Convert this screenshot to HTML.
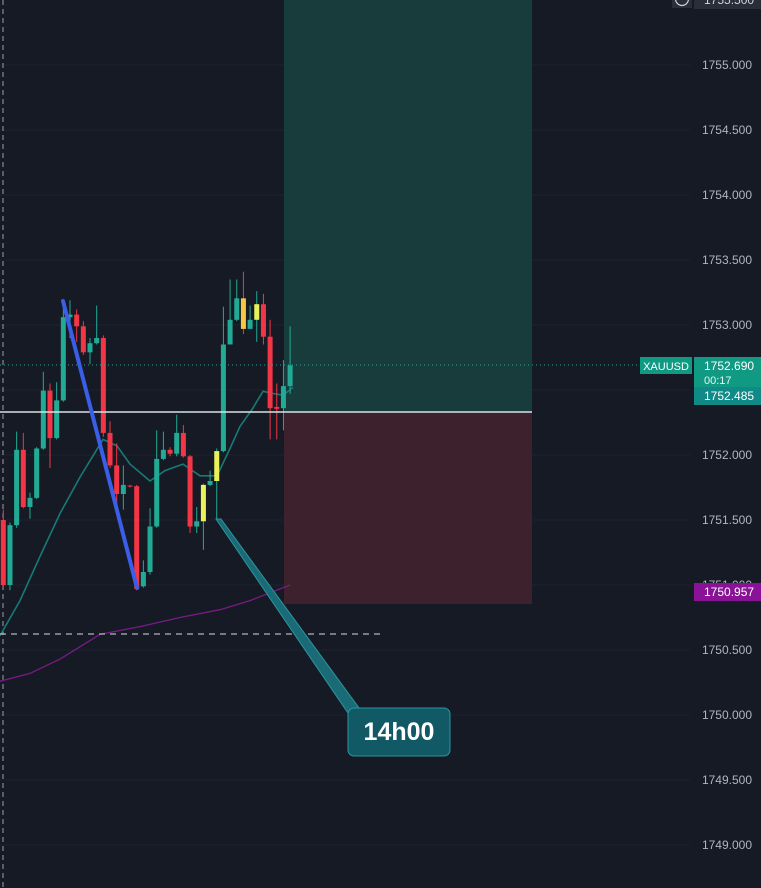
<!DOCTYPE html>
<html><head><meta charset="utf-8"><style>
html,body{margin:0;padding:0;background:#161a25;}
svg{display:block;font-family:"Liberation Sans",sans-serif;}
</style></head><body>
<svg id="chart" width="761" height="888" viewBox="0 0 761 888" xmlns="http://www.w3.org/2000/svg">
<rect x="0" y="0" width="761" height="888" fill="#161a25"/>
<g id="grid"></g>
<rect x="284" y="0" width="248" height="412" fill="#173c3b"/>
<rect x="284" y="412" width="248" height="192" fill="#3d222d"/>
<line x1="3" y1="0" x2="3" y2="888" stroke="#9aa0ab" stroke-width="1" stroke-dasharray="5,4"/>
<g id="mas"></g>
<g id="candles"></g>
<line x1="0" y1="412" x2="532" y2="412" stroke="#d8e2e6" stroke-width="1.5"/>
<line x1="0" y1="634" x2="385" y2="634" stroke="#d8dbe0" stroke-width="1" stroke-dasharray="6,5"/>
<line x1="0" y1="365" x2="640" y2="365" stroke="#22ab94" stroke-width="1" stroke-dasharray="1,3"/>
<line x1="63" y1="301" x2="137" y2="588" stroke="#3a5ee8" stroke-width="4" stroke-linecap="round"/>
<g>
<polygon points="216,519 221,519 362,712 350,716" fill="#1a6b76" stroke="#2a95a0" stroke-width="1"/>
<rect x="348" y="708" width="102" height="48" rx="6" fill="#125966" stroke="#2a95a0" stroke-width="1"/>
<text x="399" y="740" text-anchor="middle" font-size="25" font-weight="bold" fill="#ffffff">14h00</text>
</g>
<g id="axis"></g>
<g>
<rect x="672" y="-12" width="20" height="20" fill="#2a2e39"/>
<circle cx="682" cy="-1" r="6.5" fill="none" stroke="#d1d4dc" stroke-width="1.2"/>
<rect x="694" y="-12" width="67" height="21" fill="#2a2e39"/>
<text x="704" y="4" font-size="12" fill="#d1d4dc">1755.500</text>
</g>
<g>
<rect x="640" y="357" width="52" height="17" fill="#109a84"/>
<text x="666" y="370" text-anchor="middle" font-size="11" fill="#ffffff">XAUUSD</text>
</g>
<g>
<rect x="694" y="357" width="67" height="30" fill="#109a84"/>
<text x="704" y="370" font-size="12" fill="#ffffff">1752.690</text>
<text x="704" y="384" font-size="11" fill="#e6f5f2">00:17</text>
<rect x="694" y="387" width="67" height="18" fill="#0f8a87"/>
<text x="704" y="400" font-size="12" fill="#ffffff">1752.485</text>
</g>
<g>
<rect x="694" y="583" width="67" height="18" fill="#8a1296"/>
<text x="704" y="596" font-size="12" fill="#ffffff">1750.957</text>
</g>
</svg>
<script>
const ticks = [1755.0,1754.5,1754.0,1753.5,1753.0,1752.5,1752.0,1751.5,1751.0,1750.5,1750.0,1749.5,1749.0];
const opens  = [1751.50,1751.00,1751.46,1752.04,1751.60,1751.67,1752.05,1752.495,1752.13,1752.42,1753.06,1753.08,1752.99,1752.79,1752.86,1752.90,1752.17,1751.92,1751.70,1751.765,1751.76,1750.99,1751.10,1751.45,1751.97,1752.04,1752.01,1752.17,1751.99,1751.45,1751.49,1751.77,1751.80,1752.03,1752.85,1753.04,1753.205,1752.97,1753.04,1753.16,1752.91,1752.37,1752.36,1752.53];
const closes = [1751.00,1751.46,1752.04,1751.60,1751.67,1752.05,1752.495,1752.13,1752.42,1753.06,1753.08,1752.99,1752.79,1752.86,1752.90,1752.17,1751.92,1751.70,1751.77,1751.76,1750.97,1751.10,1751.45,1751.97,1752.04,1752.01,1752.17,1751.99,1751.45,1751.49,1751.77,1751.80,1752.03,1752.85,1753.04,1753.205,1752.97,1753.04,1753.16,1752.91,1752.36,1752.355,1752.53,1752.69];
const highs  = [1751.58,1751.48,1752.18,1752.17,1751.71,1752.06,1752.64,1752.55,1752.56,1753.19,1753.19,1753.12,1753.03,1752.90,1753.15,1752.92,1752.26,1752.09,1751.92,1751.77,1751.77,1751.19,1751.59,1752.19,1752.18,1752.06,1752.31,1752.23,1752.00,1751.60,1751.78,1751.88,1752.05,1753.14,1753.35,1753.35,1753.41,1753.15,1753.26,1753.24,1753.04,1752.55,1752.73,1752.99];
const lows   = [1750.98,1750.96,1751.44,1751.59,1751.51,1751.66,1752.04,1751.90,1752.12,1752.41,1752.90,1752.87,1752.77,1752.70,1752.85,1752.14,1751.90,1751.60,1751.58,1751.75,1750.96,1750.98,1751.08,1751.44,1751.96,1751.99,1751.99,1751.98,1751.40,1751.40,1751.27,1751.76,1751.50,1752.02,1752.85,1753.03,1752.93,1753.03,1752.87,1752.85,1752.12,1752.12,1752.19,1752.47];
const highlight = [0,0,0,0,0,0,0,0,0,0,0,0,0,0,0,0,0,0,0,0,0,0,0,0,0,0,0,0,0,0,1,0,1,0,0,0,2,0,1,0,0,0,0,0];
const maFastX = [0,20,40,60,80,103,117,130,150,165,183,200,217,230,240,252,263,275,283,293];
const maFast = [1750.61,1750.88,1751.22,1751.55,1751.83,1752.12,1752.07,1751.93,1751.80,1751.88,1751.93,1751.84,1751.84,1752.05,1752.22,1752.35,1752.49,1752.47,1752.46,1752.52];
const maSlowX = [0,30,60,100,140,180,220,250,270,290];
const maSlow = [1750.26,1750.32,1750.43,1750.62,1750.68,1750.75,1750.81,1750.88,1750.94,1751.00];

const ns='http://www.w3.org/2000/svg';
function y(p){return 65+(1755-p)*130;}
function x(i){return 3.3+i*6.67;}
function mk(tag,attrs,parent){const e=document.createElementNS(ns,tag);for(const k in attrs)e.setAttribute(k,attrs[k]);parent.appendChild(e);return e;}
const grid=document.getElementById('grid'), axis=document.getElementById('axis');
ticks.forEach(t=>{
  const l=mk('line',{x1:0,x2:690,y1:y(t),y2:y(t),stroke:'#1f2330','stroke-width':1},grid);
  
  
  const tx=mk('text',{x:752,y:y(t)+4,'text-anchor':'end','font-size':12,fill:'#b2b5be'},axis);
  
  
  tx.textContent=t.toFixed(3);
});
const mas=document.getElementById('mas');
const pf=mk('polyline',{points:maFast.map((v,i)=>maFastX[i]+','+y(v)).join(' '),fill:'none',stroke:'#177a78','stroke-width':1.6},mas);


const ps=mk('polyline',{points:maSlow.map((v,i)=>maSlowX[i]+','+y(v)).join(' '),fill:'none',stroke:'#7a1a86','stroke-width':1.3},mas);


const cg=document.getElementById('candles');
opens.forEach((o,i)=>{
  const c=closes[i], up=c>=o;
  let col=up?'#22ab94':'#f23645';
  if(highlight[i]===1)col='#e8f35a';
  if(highlight[i]===2)col='#f5c842';
  const cx=x(i);
  const w=mk('line',{x1:cx,x2:cx,y1:y(highs[i]),y2:y(lows[i]),stroke:up?'#22ab94':'#f23645','stroke-width':1},cg);
  
  
  const top=y(Math.max(o,c)), h=Math.max(1,Math.abs(y(o)-y(c)));
  const b=mk('rect',{x:cx-2.5,y:top,width:5,height:h,fill:col},cg);
  
  
});
</script>
</body></html>
